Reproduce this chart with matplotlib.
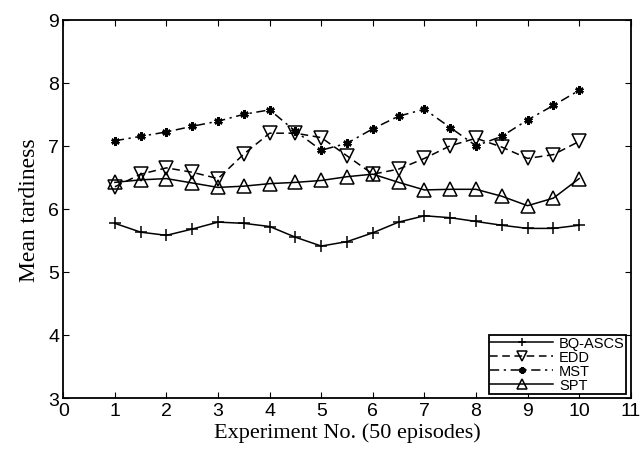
import numpy as np
import matplotlib.pyplot as plt

# experiment index (every half step)
experiment = [1, 1.5, 2, 2.5, 3, 3.5, 4, 4.5, 5, 5.5, 6, 6.5, 7, 7.5, 8, 8.5, 9, 9.5, 10]

bq_ascs = [5.77, 5.63, 5.58, 5.68, 5.79, 5.77, 5.72, 5.55, 5.41, 5.48, 5.62, 5.79,
           5.89, 5.86, 5.80, 5.74, 5.69, 5.69, 5.74]
edd = [6.35, 6.55, 6.65, 6.58, 6.48, 6.87, 7.20, 7.20, 7.13, 6.84, 6.55, 6.63,
       6.80, 7.00, 7.12, 6.98, 6.80, 6.86, 7.07]
mst = [7.08, 7.15, 7.22, 7.31, 7.39, 7.50, 7.57, 7.23, 6.93, 7.04, 7.27, 7.47,
       7.58, 7.29, 7.00, 7.15, 7.41, 7.64, 7.88]
spt = [6.42, 6.46, 6.48, 6.41, 6.34, 6.36, 6.40, 6.42, 6.45, 6.51, 6.55, 6.42,
       6.30, 6.31, 6.31, 6.20, 6.05, 6.17, 6.48]

xticks = list(range(0, 12))
yticks = list(range(3, 10))

fig = plt.figure(figsize=(6.41, 4.56), dpi=100)
ax = fig.add_axes([0.0988, 0.125, 0.8852, 0.8296])

ax.plot(experiment, bq_ascs, color='black', lw=1.1, linestyle='-', marker='+',
        ms=8, mew=1.1, label='BQ-ASCS')
ax.plot(experiment, edd, color='black', lw=1.1, linestyle=(0, (5, 3)), marker='v',
        ms=9.5, mfc='none', mew=1.1, label='EDD')
ax.plot(experiment, mst, color='black', lw=1.1, linestyle=(0, (6, 3, 1.5, 3)), marker=(6, 2, 0),
        ms=6, mew=1.8, label='MST')
ax.plot(experiment, spt, color='black', lw=1.1, linestyle='-', marker='^',
        ms=9.5, mfc='none', mew=1.1, label='SPT')

ax.set_xlim(0, 11)
ax.set_ylim(3, 9)
ax.set_xticks(xticks)
ax.set_yticks(yticks)
ax.tick_params(direction='in', top=True, right=True, length=4, width=0.8,
               labelsize=14, pad=3)
for lab in ax.get_xticklabels() + ax.get_yticklabels():
    lab.set_fontfamily('Liberation Sans')
for sp in ax.spines.values():
    sp.set_linewidth(1.3)

ax.set_xlabel('Experiment No. (50 episodes)', family='Liberation Serif', fontsize=16, labelpad=2)
ax.set_ylabel('Mean tardiness', family='Liberation Serif', fontsize=17, labelpad=6)

leg = ax.legend(loc='lower right', bbox_to_anchor=(0.992, 0.011), borderaxespad=0,
                prop={'family': 'Liberation Sans', 'size': 10.5}, fancybox=False,
                edgecolor='black', framealpha=1, handlelength=4.3, handletextpad=0.4,
                labelspacing=0.0, borderpad=0.1, markerscale=0.8)
leg.get_frame().set_linewidth(1.3)

fig.savefig('out.png', dpi=100)
